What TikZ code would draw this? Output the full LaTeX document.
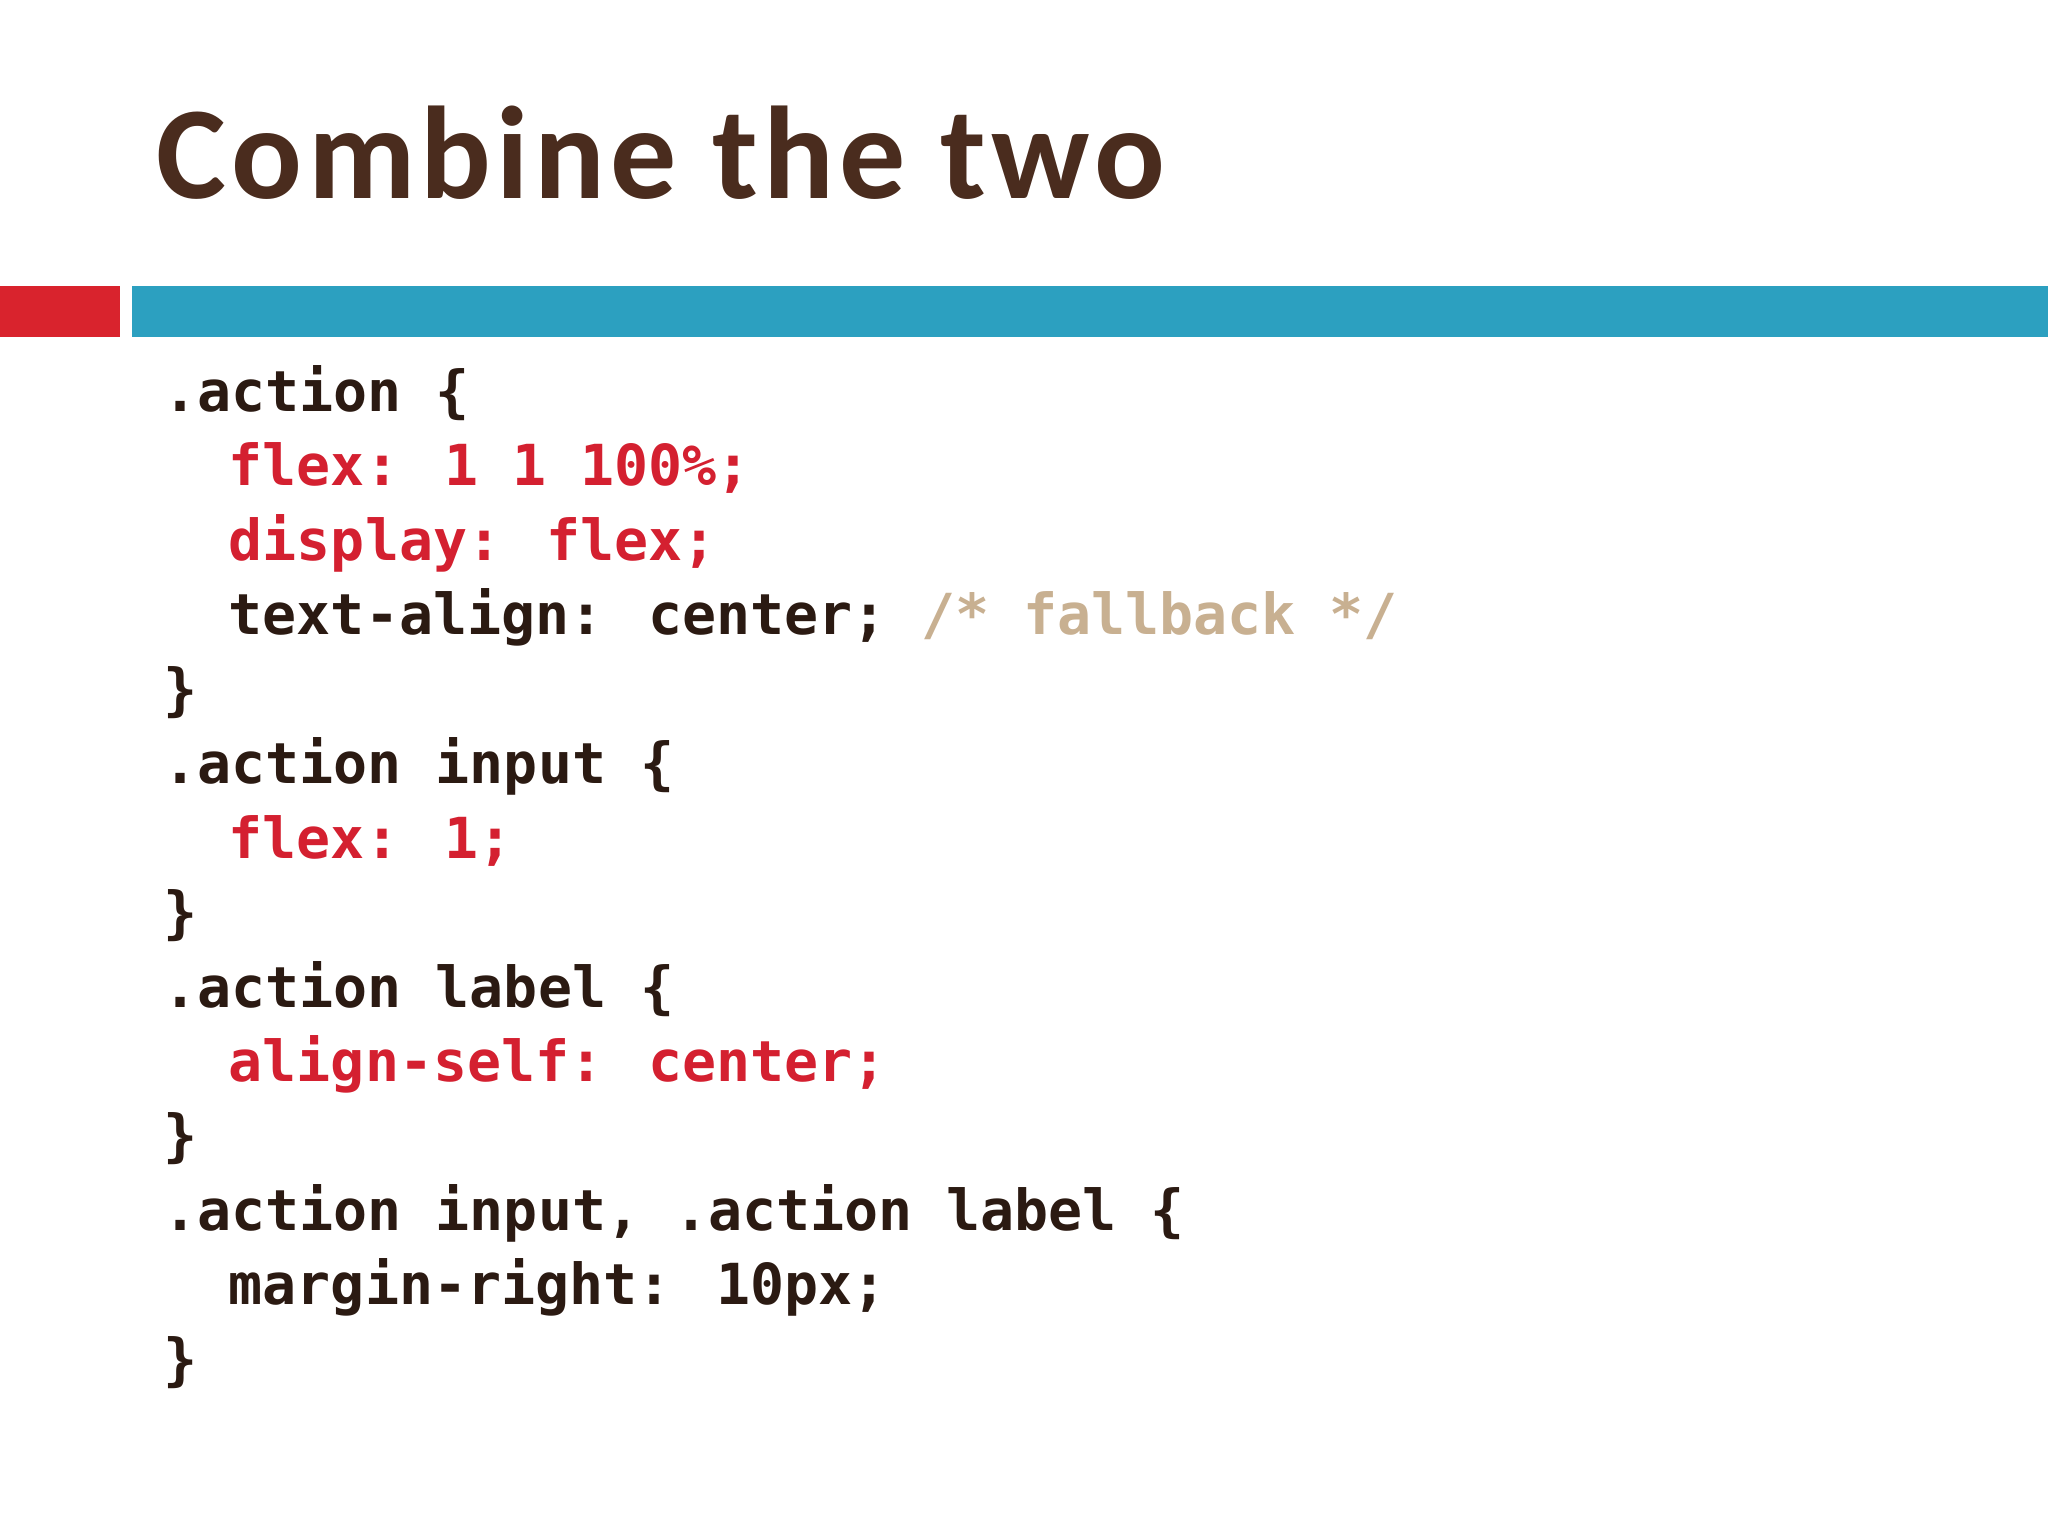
\documentclass[tikz,border=0pt]{standalone}
\usepackage{fontspec}
\newfontfamily\titlefont[LetterSpace=4]{Carlito}
\newfontfamily\codefont{DejaVu Sans Mono}
\definecolor{titlec}{HTML}{4A2C1E}
\definecolor{redbar}{HTML}{D9232D}
\definecolor{bluebar}{HTML}{2CA0C0}
\definecolor{codec}{HTML}{2B1A12}
\definecolor{codered}{HTML}{D42030}
\definecolor{comm}{HTML}{C8B091}
\begin{document}
\begin{tikzpicture}[x=1pt,y=-1pt,
  code/.style={anchor=base west,inner sep=0pt,font=\codefont\bfseries\fontsize{43.3}{50}\selectfont,text=codec},
  red/.style={code,text=codered}]
\useasboundingbox (0,0) rectangle (1568,1176);
\fill[white] (0,0) rectangle (1568,1176);
\node[anchor=base west,inner sep=0pt,font=\titlefont\bfseries\fontsize{101}{110}\selectfont,text=titlec] (title) at (120,152) {Combine the two};
\fill[redbar] (0,219) rectangle (92,258);
\fill[bluebar] (101,219) rectangle (1568,258);
\node[code] (l1) at (125,315) {.action \{};
\node[red] (l2) at (175,372) {flex: 1 1 100\%;};
\node[red] (l3) at (175,429) {display: flex;};
\node[code] (l4) at (175,486) {text-align: center; \textcolor{comm}{/* fallback */}};
\node[code] (l5) at (125,543) {\}};
\node[code] (l6) at (125,600) {.action input \{};
\node[red] (l7) at (175,657) {flex: 1;};
\node[code] (l8) at (125,714) {\}};
\node[code] (l9) at (125,771) {.action label \{};
\node[red] (l10) at (175,828) {align-self: center;};
\node[code] (l11) at (125,885) {\}};
\node[code] (l12) at (125,942) {.action input, .action label \{};
\node[code] (l13) at (175,999) {margin-right: 10px;};
\node[code] (l14) at (125,1056) {\}};
\end{tikzpicture}
\end{document}
